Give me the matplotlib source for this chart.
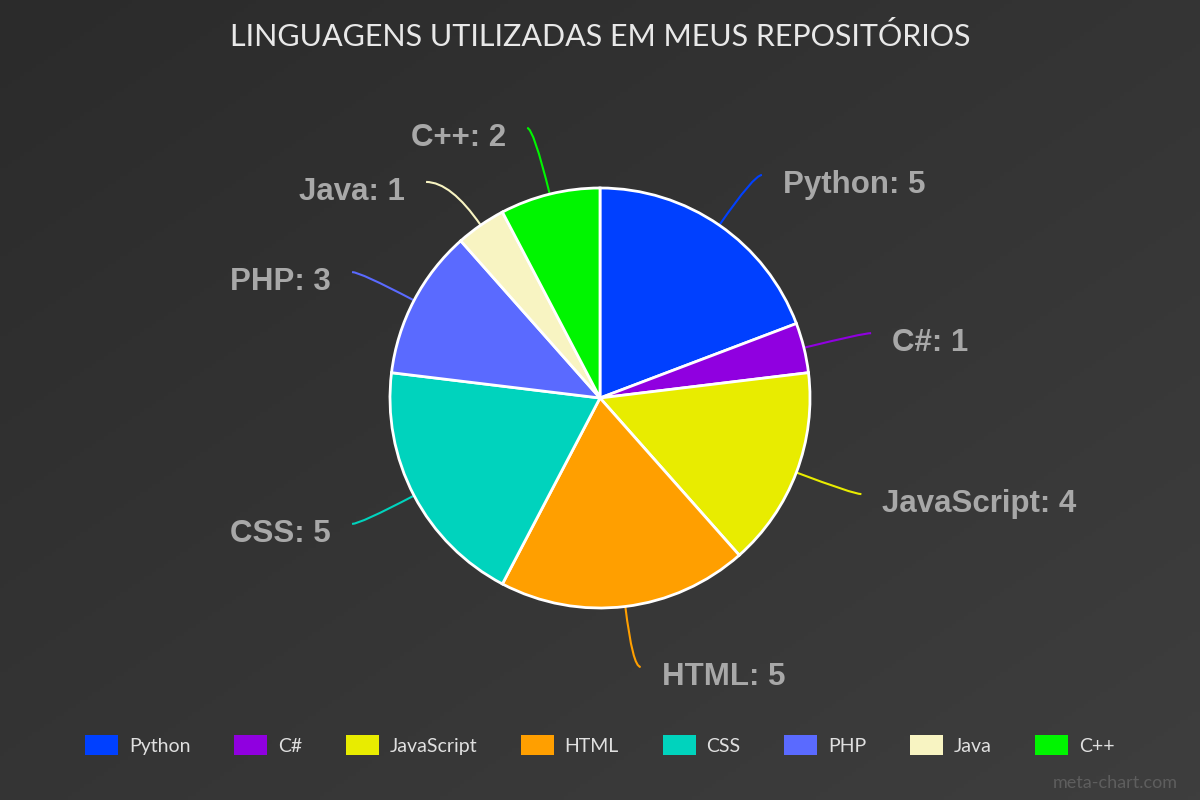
import numpy as np
import matplotlib
matplotlib.use("Agg")
from matplotlib import pyplot as plt
from matplotlib.patches import Patch, PathPatch
from matplotlib.path import Path
from matplotlib.colors import LinearSegmentedColormap

# data
languages = ["Python", "C#", "JavaScript", "HTML", "CSS", "PHP", "Java", "C++"]
repos = [5, 1, 4, 5, 5, 3, 1, 2]
colors = ["#0040ff", "#9000e0", "#e8ec00", "#ff9f00", "#00d3bd", "#5a6aff", "#f8f4c2", "#00f500"]
title = "LINGUAGENS UTILIZADAS EM MEUS REPOSITÓRIOS"

narrow = ["Lato", "DejaVu Sans"]
bold = ["Liberation Sans", "DejaVu Sans"]

fig = plt.figure(figsize=(12, 8), dpi=100)
ax = fig.add_axes([0, 0, 1, 1])

# background gradient, darker top-left to lighter bottom-right
yy, xx = np.mgrid[0:1:200j, 0:1:300j]
grad = xx + (1 - yy)
bg = LinearSegmentedColormap.from_list("bg", ["#2b2b2b", "#3e3e3e"])
ax.imshow(grad, cmap=bg, extent=(0, 1200, 0, 800), origin="lower", zorder=0)

# pie, in pixel units
cx, cy, r = 600, 402, 210
ax.pie(repos, colors=colors, startangle=90, counterclock=False,
       center=(cx, cy), radius=r,
       wedgeprops=dict(edgecolor="white", linewidth=2, zorder=2))
ax.set_xlim(0, 1200)
ax.set_ylim(0, 800)
ax.set_aspect("equal")
ax.axis("off")

# label placement
total = float(sum(repos))
mids = []
a = 90.0
for v in repos:
    span = v / total * 360
    mids.append(np.radians(a - span / 2))
    a -= span

R = 271
ys = [cy + R * np.sin(t) for t in mids]
sides = [1 if np.cos(t) >= 0 else -1 for t in mids]

# push apart labels that sit too close on the same side
for s in (1, -1):
    idx = sorted([i for i in range(len(mids)) if sides[i] == s], key=lambda i: ys[i])
    for k in range(len(idx) - 1):
        i, j = idx[k], idx[k + 1]
        gap = ys[j] - ys[i]
        if gap < 54:
            d = (54 - gap) / 2
            ys[i] -= d
            ys[j] += d

for i, t in enumerate(mids):
    s = sides[i]
    ey = ys[i]
    ex = cx + R * np.cos(t) + s * 8
    if i == 6:
        ex -= 12
    px, py = cx + r * np.cos(t), cy + r * np.sin(t)
    k = (ey - py) / np.sin(t) if abs(np.sin(t)) > 1e-3 else 0
    qx, qy = px + k * np.cos(t), py + k * np.sin(t)
    path = Path([(px, py), (qx, qy), (ex, ey)], [Path.MOVETO, Path.CURVE3, Path.CURVE3])
    ax.add_patch(PathPatch(path, fill=False, edgecolor=colors[i], lw=1.5, zorder=1))
    ax.text(ex + s * 21, ey - 10, "%s: %d" % (languages[i], repos[i]),
            ha="left" if s > 0 else "right", va="center",
            fontsize=22.5, fontweight="bold", color="#a8a8a8", family=bold)

# title
fig.text(0.5, 1 - 37 / 800, title, ha="center", va="center",
         fontsize=22, color="#e8e8e8", family=narrow)

# legend
handles = [Patch(facecolor=c, edgecolor="none", label=l) for c, l in zip(colors, languages)]
fig.legend(handles=handles, loc="center", bbox_to_anchor=(0.5, 1 - 745 / 800),
           ncol=8, frameon=False, handlelength=1.7, handleheight=1.2,
           handletextpad=0.55, columnspacing=2.25, labelcolor="#e0e0e0",
           prop=dict(family=narrow, size=14))

# watermark
fig.text(1178 / 1200, 1 - 783 / 800, "meta-chart.com", ha="right", va="center",
         fontsize=13, color="#5e5e5e", family=narrow)

plt.savefig("out.png", dpi=100)
